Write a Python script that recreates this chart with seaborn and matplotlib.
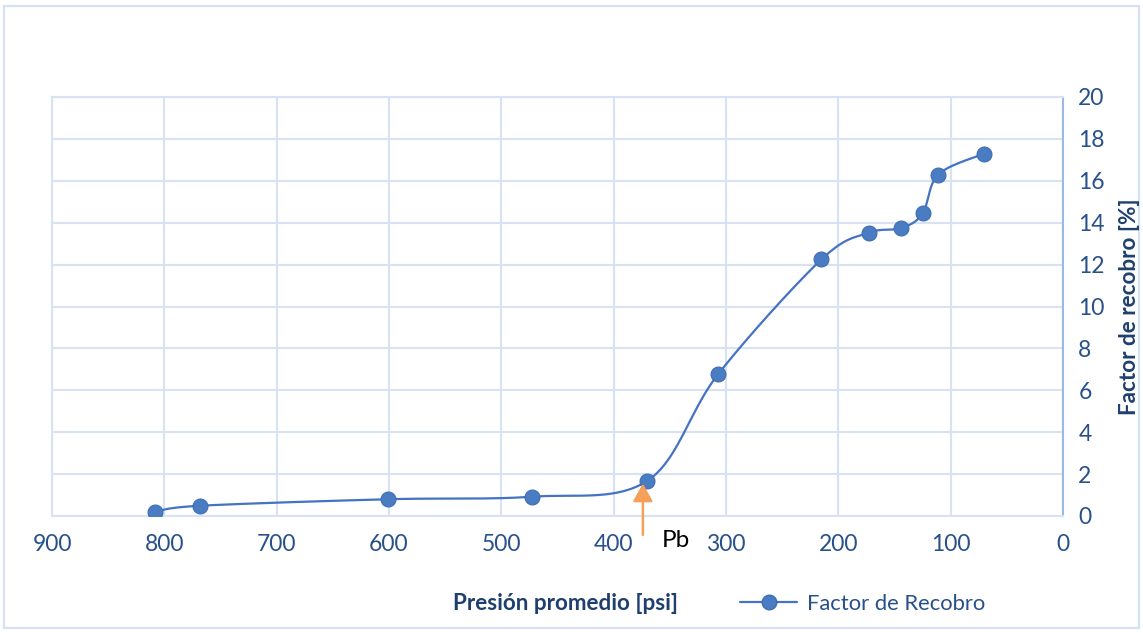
import numpy as np
import pandas as pd
import matplotlib
matplotlib.use("Agg")
import matplotlib.pyplot as plt
from matplotlib.lines import Line2D
from matplotlib.patches import Rectangle
import seaborn as sns

# Average reservoir pressure [psi] and recovery factor [%]
presion = [808, 768, 601, 473, 370, 307, 215, 173, 144, 125, 111, 70]
factor_recobro = [0.2, 0.49, 0.8, 0.92, 1.68, 6.77, 12.25, 13.52, 13.74, 14.44, 16.3, 17.3]
x_ticks = [900, 800, 700, 600, 500, 400, 300, 200, 100, 0]
y_ticks = [0, 2, 4, 6, 8, 10, 12, 14, 16, 18, 20]
presion_burbuja = 374  # bubble-point pressure marker

sns.set_theme(style="white")
plt.rcParams["font.family"] = ["Lato", "DejaVu Sans"]

TICK_COLOR = "#28508a"
TITLE_COLOR = "#1f3f6e"
GRID_COLOR = "#d7e2f3"
LINE_COLOR = "#4472c4"

fig = plt.figure(figsize=(11.43, 6.33), dpi=100)
W, H = 1143, 633
ax = fig.add_axes([52 / W, 1 - 516 / H, (1063 - 52) / W, (516 - 97) / H])

XMIN, XMAX, YMIN, YMAX = 900, 0, 0, 20
ax.set_xlim(XMIN, XMAX)
ax.set_ylim(YMIN, YMAX)

# Smoothed curve (cardinal Bezier through the points, built in axes-pixel space)
wpx, hpx = 1063 - 52, 516 - 97
px = np.array([(XMIN - v) / (XMIN - XMAX) * wpx for v in presion])
py = np.array([(v - YMIN) / (YMAX - YMIN) * hpx for v in factor_recobro])
P = np.column_stack([px, py])
n = len(P)
curve = []
t = np.linspace(0, 1, 40)[:, None]
for i in range(n - 1):
    p0 = P[max(i - 1, 0)]
    p1 = P[i]
    p2 = P[i + 1]
    p3 = P[min(i + 2, n - 1)]
    c1 = p1 + (p2 - p0) / 6.0
    c2 = p2 - (p3 - p1) / 6.0
    seg = ((1 - t) ** 3) * p1 + 3 * ((1 - t) ** 2) * t * c1 + 3 * (1 - t) * t ** 2 * c2 + t ** 3 * p2
    curve.append(seg if i == 0 else seg[1:])
curve = np.vstack(curve)
smooth = pd.DataFrame({
    "presion": XMIN - curve[:, 0] / wpx * (XMIN - XMAX),
    "factor": YMIN + curve[:, 1] / hpx * (YMAX - YMIN),
})
puntos = pd.DataFrame({"presion": presion, "factor": factor_recobro})

sns.lineplot(data=smooth, x="presion", y="factor", sort=False, ax=ax,
             color=LINE_COLOR, linewidth=1.6, zorder=3)
sns.scatterplot(data=puntos, x="presion", y="factor", ax=ax, s=115,
                color="#4a7cc3", edgecolor="#3f6db3", linewidth=0.8, zorder=4)

# Axes styling
ax.set_xticks(x_ticks)
ax.set_yticks(y_ticks)
ax.yaxis.tick_right()
ax.yaxis.set_label_position("right")
ax.tick_params(axis="both", labelsize=16.5, labelcolor=TICK_COLOR, length=0)
ax.tick_params(axis="x", pad=13)
ax.tick_params(axis="y", pad=11)
ax.grid(True, color=GRID_COLOR, linewidth=1.5)
ax.set_axisbelow(True)
for side in ["top", "left", "bottom"]:
    ax.spines[side].set_color(GRID_COLOR)
    ax.spines[side].set_linewidth(1.5)
ax.spines["right"].set_color("#9cb8e0")
ax.spines["right"].set_linewidth(1.5)
ax.set_xlabel("")
ax.set_ylabel("")

# Bubble-point arrow and label
ax.annotate("", xy=(presion_burbuja, 1.55), xytext=(presion_burbuja, -0.9),
            xycoords="data", textcoords="data", annotation_clip=False,
            arrowprops=dict(arrowstyle="-|>,head_length=0.9,head_width=0.5",
                            color="#f4a05a", lw=1.8, shrinkA=0, shrinkB=0),
            zorder=5)
ax.text(presion_burbuja - 17, -1.15, "Pb", fontsize=17.5, color="black",
        ha="left", va="center", clip_on=False)

# Axis titles
fig.text(565.5 / W, 1 - 603 / H, "Presión promedio [psi]", fontsize=16.2,
         fontweight="bold", color=TITLE_COLOR, ha="center", va="center")
fig.text(1130 / W, 1 - 307 / H, "Factor de recobro [%]", fontsize=16.2,
         fontweight="bold", color=TITLE_COLOR, ha="center", va="center",
         rotation=90)

# Legend
handle = Line2D([], [], color=LINE_COLOR, linewidth=1.6, marker="o",
                markersize=10.5, markerfacecolor="#4a7cc3",
                markeredgecolor="#3f6db3")
fig.legend([handle], ["Factor de Recobro"], loc="center left",
           bbox_to_anchor=(740 / W, 1 - 604 / H), frameon=False,
           fontsize=15.8, labelcolor=TICK_COLOR, handlelength=2.6,
           handletextpad=0.45, borderaxespad=0, borderpad=0)

# Chart-area border
fig.patches.append(Rectangle((4 / W, 1 - 628 / H), (1139 - 4) / W, (628 - 6) / H,
                             transform=fig.transFigure, fill=False,
                             edgecolor="#d6e2f3", linewidth=1.6))

fig.savefig("out.png", dpi=100)
